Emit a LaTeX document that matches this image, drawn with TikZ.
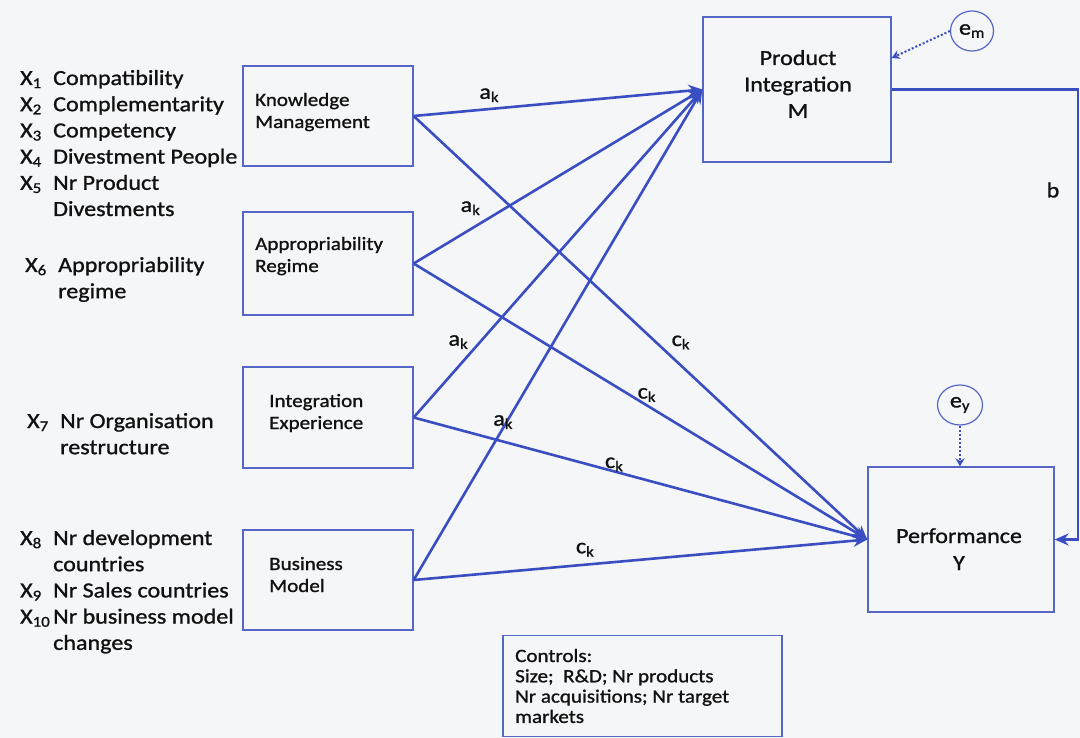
\documentclass[tikz,border=0pt]{standalone}
\usepackage{fontspec}
\setmainfont[FakeStretch=1.12,RawFeature={embolden=1.1}]{Carlito}
\usetikzlibrary{arrows.meta,shapes.geometric,calc}

\definecolor{pagebg}{HTML}{F5F6F8}
\definecolor{edgeblue}{HTML}{3A4EC2}
\definecolor{boxblue}{HTML}{5466C6}
\definecolor{ink}{HTML}{111111}

% indicator prefix X_i in a fixed-width slot
\newcommand\xvar[1]{\makebox[33pt][l]{X\textsubscript{#1}}}
\newcommand\xgap{\makebox[33pt]{}}

\begin{document}
\begin{tikzpicture}[x=1pt,y=-1pt,
  every node/.style={text=ink},
  varbox/.style={draw=boxblue, line width=1.3pt, minimum width=170pt,
    minimum height=100pt, inner sep=0pt},
  bigbox/.style={draw=boxblue, line width=1.3pt, inner sep=0pt},
  boxtext/.style={font=\fontsize{18.8}{22}\selectfont, inner sep=0pt, anchor=base west},
  indicators/.style={font=\fontsize{21.5}{26.2}\selectfont, inner sep=0pt, anchor=base west},
  errterm/.style={ellipse, draw=boxblue, line width=1.2pt, minimum width=43pt,
    minimum height=40pt, inner sep=0pt, font=\fontsize{21.5}{24}\selectfont},
  path/.style={draw=edgeblue, line width=2.6pt,
    -{Stealth[length=14pt,width=12pt]}},
  errpath/.style={draw=edgeblue, line width=2pt, dash pattern=on 2pt off 2pt,
    -{Stealth[length=8pt,width=9pt]}},
  coef/.style={font=\fontsize{21.5}{24}\selectfont, inner sep=0pt},
]
\useasboundingbox[fill=pagebg] (0,0) rectangle (1080,738);

% ---------- indicator lists ----------
\node[indicators] (ind1) at (20,85) {\begin{tabular}[t]{@{}l@{}}
\xvar{1}Compatibility\\
\xvar{2}Complementarity\\
\xvar{3}Competency\\
\xvar{4}Divestment People\\
\xvar{5}Nr Product\\
\xgap Divestments
\end{tabular}};
\node[indicators] (ind2) at (25,272) {\begin{tabular}[t]{@{}l@{}}
\xvar{6}Appropriability\\
\xgap regime
\end{tabular}};
\node[indicators] (ind3) at (27,428) {\begin{tabular}[t]{@{}l@{}}
\xvar{7}Nr Organisation\\
\xgap restructure
\end{tabular}};
\node[indicators] (ind4) at (20,545) {\begin{tabular}[t]{@{}l@{}}
\xvar{8}Nr development\\
\xgap countries\\
\xvar{9}Nr Sales countries\\
\xvar{10}Nr business model\\
\xgap changes
\end{tabular}};

% ---------- latent constructs ----------
\node[varbox] (km) at (328,116) {};
\node[varbox, minimum height=103pt] (ar) at (328,263.5) {};
\node[varbox, minimum height=101pt] (ie) at (328,417.5) {};
\node[varbox] (bm) at (328,580) {};

\node[boxtext] (kmtext) at (255,106) {\begin{tabular}[t]{@{}l@{}}Knowledge\\Management\end{tabular}};
\node[boxtext] (artext) at (255,250) {\begin{tabular}[t]{@{}l@{}}Appropriability\\Regime\end{tabular}};
\node[boxtext] (ietext) at (269,407) {\begin{tabular}[t]{@{}l@{}}Integration\\Experience\end{tabular}};
\node[boxtext] (bmtext) at (269,570) {\begin{tabular}[t]{@{}l@{}}Business\\Model\end{tabular}};

% mediator and outcome
\node[bigbox, minimum width=188pt, minimum height=145pt] (pi) at (797,89.5) {};
\node[font=\fontsize{21.5}{26.5}\selectfont, inner sep=0pt, anchor=base] (pitext) at (798,65)
  {\begin{tabular}[t]{@{}c@{}}Product\\Integration\\M\end{tabular}};
\node[bigbox, minimum width=186pt, minimum height=145pt] (perf) at (961,539.5) {};
\node[font=\fontsize{21.5}{27}\selectfont, inner sep=0pt, anchor=base] (perftext) at (959,543)
  {\begin{tabular}[t]{@{}c@{}}Performance\\Y\end{tabular}};

% error terms
\node[errterm] (em) at (972,31) {e\textsubscript{m}};
\node[errterm, minimum width=45pt] (ey) at (960,405) {e\textsubscript{y}};

% control variables
\node[bigbox, minimum width=279pt, minimum height=101pt] (ctrl) at (642.5,686) {};
\node[font=\fontsize{18.8}{20.3}\selectfont, inner sep=0pt, anchor=base west] (ctrltext) at (515,662)
  {\begin{tabular}[t]{@{}l@{}}Controls:\\Size;\ \ R\&D; Nr products\\Nr acquisitions; Nr target\\markets\end{tabular}};

% ---------- a paths (X -> M) ----------
\draw[path] (km.east) -- (pi.west) node[coef, pos=0.262, shift={(0,-13.8)}] (a1) {a\textsubscript{k}};
\draw[path] (ar.east) -- (pi.west) node[coef, pos=0.197, shift={(0,-21)}] (a2) {a\textsubscript{k}};
\draw[path] (ie.east) -- (pi.west) node[coef, pos=0.155, shift={(0,-24.6)}] (a3) {a\textsubscript{k}};
\draw[path] (bm.east) -- (pi.west) node[coef, pos=0.322, shift={(-3.5,0)}] (a4) {a\textsubscript{k}};

% ---------- c paths (X -> Y) ----------
\draw[path] (km.east) -- (perf.west) node[coef, pos=0.589, shift={(0,-23)}] (c1) {c\textsubscript{k}};
\draw[path] (ar.east) -- (perf.west) node[coef, pos=0.514, shift={(0,-10.4)}] (c2) {c\textsubscript{k}};
\draw[path] (ie.east) -- (perf.west) node[coef, pos=0.442, shift={(0,-7)}] (c3) {c\textsubscript{k}};
\draw[path] (bm.east) -- (perf.west) node[coef, pos=0.378, shift={(0,-15)}] (c4) {c\textsubscript{k}};

% ---------- b path (M -> Y) ----------
\coordinate (bturn) at (1078,89.5);
\draw[path] (pi.east) -- (bturn) |- (perf.east);
\node[coef] (blabel) at (1053,190) {b};

% ---------- error paths ----------
\draw[errpath] (em.west) -- ([yshift=31.5pt]pi.east);
\draw[errpath] (ey.south) -- (ey.south |- perf.north);
\end{tikzpicture}
\end{document}
